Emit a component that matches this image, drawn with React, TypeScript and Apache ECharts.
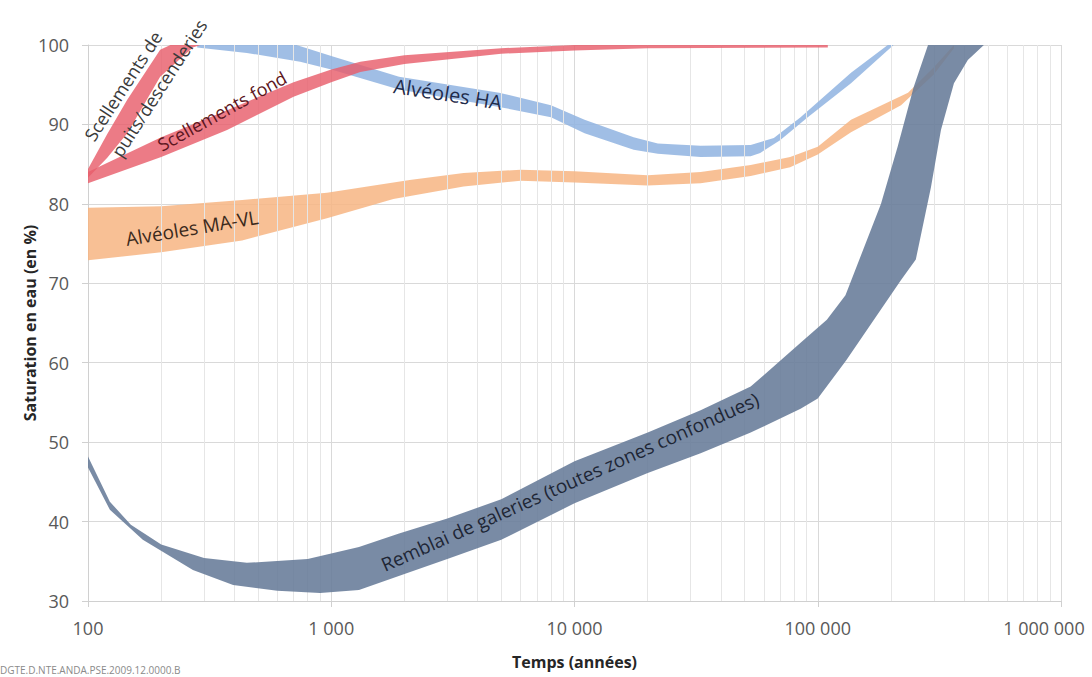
import React, { useEffect, useRef } from "react";
import * as echarts from "echarts";

// ---- Data: [time (years), water saturation (%)] ----
const remblaiUpper = [
  [100, 48.2], [123, 42.5], [150, 39.6], [200, 37.1], [300, 35.4], [450, 34.8], [800, 35.3],
  [1300, 36.8], [1900, 38.5], [3000, 40.4], [5000, 42.8], [10000, 47.6], [20000, 51.2],
  [33000, 54.0], [53000, 57.0], [85000, 62.5], [109000, 65.4], [130000, 68.5], [182000, 80.0],
  [213000, 87.2], [248000, 94.7], [284000, 100],
];
const remblaiLower = [
  [100, 46.8], [123, 41.5], [168, 37.7], [270, 33.9], [395, 32.0], [600, 31.3], [900, 31.0],
  [1300, 31.4], [2000, 33.4], [3000, 35.3], [5000, 37.7], [10000, 42.3], [20000, 46.1],
  [33000, 48.6], [53000, 51.2], [85000, 54.2], [100000, 55.5], [131000, 60.3], [220000, 70.4],
  [253000, 73.0], [292000, 82.1], [321000, 89.3], [363000, 95.2], [414000, 98.1], [482000, 100],
];
const haUpper = [
  [281, 100], [720, 100], [1000, 98.6], [1900, 96.0], [4900, 94.0], [8000, 92.4], [11000, 90.6],
  [17500, 88.4], [22000, 87.6], [33000, 87.3], [53000, 87.4], [66000, 88.3], [85000, 90.9],
  [137000, 96.5], [194000, 100],
];
const haLower = [
  [281, 99.7], [450, 99.0], [745, 97.9], [1000, 96.9], [1900, 94.4], [4900, 92.2], [8000, 90.9],
  [11000, 88.9], [17500, 86.8], [22000, 86.3], [33000, 85.9], [53000, 86.0], [58000, 86.4],
  [70000, 88.0], [91000, 90.9], [137000, 95.2], [205000, 100],
];
const mavlUpper = [
  [100, 79.5], [200, 79.7], [430, 80.5], [960, 81.4], [2100, 83.0], [3500, 83.9], [6000, 84.3],
  [10000, 84.1], [20000, 83.6], [33000, 84.0], [53000, 84.9], [77000, 85.9], [100000, 87.2],
  [137000, 90.6], [235000, 94.0], [300000, 97.2], [363000, 100],
];
const mavlLower = [
  [100, 72.9], [200, 73.9], [430, 75.4], [960, 78.2], [1800, 80.6], [3500, 82.2], [6000, 82.9],
  [10000, 82.7], [20000, 82.3], [33000, 82.6], [53000, 83.5], [77000, 84.6], [100000, 86.2],
  [137000, 89.0], [220000, 92.4], [300000, 96.3], [363000, 99.6],
];
const puitsUpper = [[100, 84.4], [120, 88.8], [145, 93.1], [198, 99.4], [218, 100], [290, 100]];
const puitsLower = [[100, 83.3], [120, 85.8], [145, 88.9], [198, 96.0], [270, 99.7], [290, 100]];
const fondUpper = [
  [100, 84.0], [200, 88.4], [373, 91.8], [700, 95.3], [1000, 96.9], [1316, 97.9], [2000, 98.7],
  [5000, 99.6], [10000, 100], [110000, 100],
];
const fondLower = [
  [100, 82.6], [200, 85.9], [373, 89.3], [700, 93.5], [1000, 95.3], [1316, 96.6], [2000, 97.6],
  [5000, 98.9], [10000, 99.3], [20000, 99.6], [110000, 99.7],
];

const xMajorTicks = [100, 1000, 10000, 100000, 1000000];
const xMinorMultipliers = [2, 3, 4, 5, 6, 7, 8, 9];
const yTicks = [30, 40, 50, 60, 70, 80, 90, 100];

const FONT = '"Open Sans", "Noto Sans", sans-serif';

function fmt(v: number) {
  return String(Math.round(v)).replace(/\B(?=(\d{3})+(?!\d))/g, " ");
}

function bandSeries(name: string, upper: number[][], lower: number[][], color: string, opacity: number, z: number) {
  return {
    type: "custom",
    name,
    z,
    silent: true,
    coordinateSystem: "cartesian2d",
    data: upper,
    encode: { x: 0, y: 1 },
    renderItem: (params: any, api: any) => {
      if (params.dataIndex !== 0) return null;
      const pts = upper
        .map((p) => api.coord(p))
        .concat(lower.slice().reverse().map((p) => api.coord(p)));
      return {
        type: "polygon",
        shape: { points: pts },
        style: { fill: color, opacity },
      };
    },
  };
}

export default function App() {
  const ref = useRef<HTMLDivElement>(null);
  useEffect(() => {
    if (!ref.current) return;
    const chart = echarts.init(ref.current, null, { renderer: "svg" });
    const minorLines: number[] = [];
    xMajorTicks.slice(0, -1).forEach((d) => xMinorMultipliers.forEach((m) => minorLines.push(d * m)));
    const xMax = xMajorTicks[xMajorTicks.length - 1];
    const deg = Math.PI / 180;
    const label = (text: string, x: number, y: number, angle: number, size: number, fill: string) => ({
      type: "text",
      x,
      y,
      rotation: angle * deg,
      z: 100,
      style: {
        text,
        fontSize: size,
        fontFamily: FONT,
        fill,
        align: "center",
        verticalAlign: "middle",
      },
    });
    chart.setOption({
      animation: false,
      backgroundColor: "#ffffff",
      grid: { left: 88, right: 31, top: 45, bottom: 76, outerBoundsMode: "none", containLabel: false },
      xAxis: {
        type: "log",
        logBase: 10,
        min: xMajorTicks[0],
        max: xMax,
        name: "Temps (années)",
        nameLocation: "middle",
        nameGap: 53,
        nameMoveOverlap: false,
        nameTextStyle: { fontFamily: FONT, fontSize: 16, fontWeight: "bold", color: "#262626" },
        axisLine: { show: true, lineStyle: { color: "#d0d0d0" } },
        axisTick: { show: true, length: 6, lineStyle: { color: "#d0d0d0" } },
        axisLabel: {
          fontFamily: FONT,
          fontSize: 18,
          color: "#595959",
          margin: 18,
          formatter: (v: number) => (Math.round(v) >= xMax ? `{last|${fmt(v)}}` : fmt(v)),
          rich: {
            last: { fontFamily: FONT, fontSize: 18, color: "#595959", padding: [0, 34, 0, 0] },
          },
        },
        splitLine: { show: true, lineStyle: { color: "#d9d9d9" } },
      },
      yAxis: {
        type: "value",
        min: yTicks[0],
        max: yTicks[yTicks.length - 1],
        interval: 10,
        name: "Saturation en eau (en %)",
        nameLocation: "middle",
        nameGap: 50,
        nameMoveOverlap: false,
        nameTextStyle: { fontFamily: FONT, fontSize: 16, fontWeight: "bold", color: "#262626" },
        axisLine: { show: true, lineStyle: { color: "#d0d0d0" } },
        axisTick: { show: true, length: 6, lineStyle: { color: "#d0d0d0" } },
        axisLabel: { fontFamily: FONT, fontSize: 18, color: "#595959", margin: 19 },
        splitLine: { show: true, lineStyle: { color: "#d9d9d9" } },
      },
      series: [
        {
          type: "line",
          z: 1,
          silent: true,
          data: [[xMajorTicks[0], yTicks[0]]],
          showSymbol: false,
          lineStyle: { opacity: 0 },
          markLine: {
            silent: true,
            symbol: ["none", "none"],
            label: { show: false },
            lineStyle: { color: "#e6e6e6", width: 1, type: "solid" },
            data: minorLines.map((v) => ({ xAxis: v })),
          },
        },
        bandSeries("Alvéoles HA", haUpper, haLower, "#8fb3e0", 0.85, 3),
        bandSeries("Alvéoles MA-VL", mavlUpper, mavlLower, "#f7b582", 0.85, 4),
        bandSeries("Scellements fond", fondUpper, fondLower, "#e85e6b", 0.82, 5),
        bandSeries("Scellements de puits/descenderies", puitsUpper, puitsLower, "#e85e6b", 0.82, 5),
        bandSeries("Remblai de galeries", remblaiUpper, remblaiLower, "#667b99", 0.88, 6),
      ],
      graphic: [
        label("Scellements de", 123, 86, 57, 18, "#3a3a3a"),
        label("puits/descenderies", 159, 88, 57, 18, "#3a3a3a"),
        label("Scellements fond", 222, 111, 29, 18, "#5c1520"),
        label("Alvéoles HA", 448, 94, -9, 20, "#1f2b4a"),
        label("Alvéoles MA-VL", 192, 228, 9.5, 19, "#3b2a1c"),
        label("Remblai de galeries (toutes zones confondues)", 570, 482, 24, 19, "#1e2635"),
        {
          type: "text",
          x: 0,
          y: 665,
          z: 100,
          style: {
            text: "DGTE.D.NTE.ANDA.PSE.2009.12.0000.B",
            fontSize: 10,
            fontFamily: FONT,
            fill: "#8a8a8a",
            align: "left",
            verticalAlign: "top",
          },
        },
      ],
    });
    return () => chart.dispose();
  }, []);
  return (
    <div
      ref={ref}
      style={{ position: "absolute", left: 0, top: 0, width: 1092, height: 677, overflow: "hidden", background: "#fff" }}
    />
  );
}
